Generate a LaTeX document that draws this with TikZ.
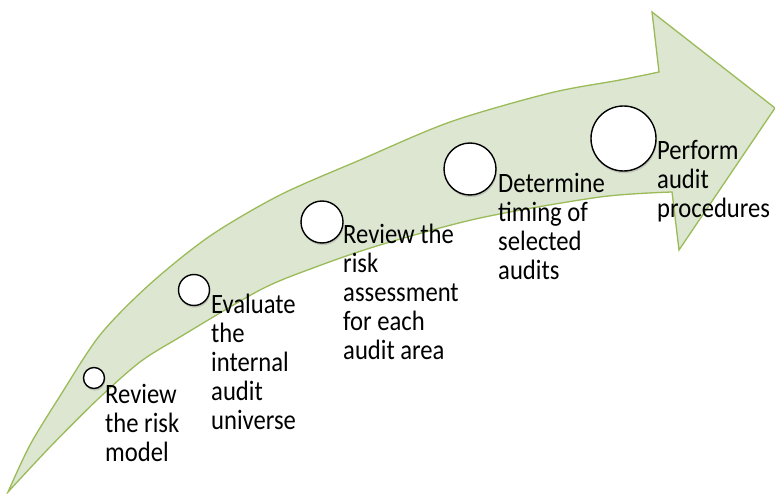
\documentclass[tikz,border=0pt]{standalone}
\usepackage{fontspec}
\setmainfont[FakeStretch=0.88]{Carlito}
\usetikzlibrary{shadows}
\definecolor{arrowfillc}{RGB}{220,230,209}
\definecolor{arrowline}{RGB}{155,187,89}
\tikzset{
  arrowshape/.style={fill=arrowfillc, draw=arrowline, line width=1.3pt, line join=miter},
  stepdot/.style={circle, draw=black, fill=white, line width=1.4pt, inner sep=0pt,
    drop shadow={opacity=0.3, shadow xshift=0.8pt, shadow yshift=-2.2pt}},
  steplabel/.style={anchor=base west, inner sep=0pt, font=\fontsize{28}{29}\selectfont, text=black}
}
\begin{document}
\begin{tikzpicture}[x=1pt, y=-1pt]
\useasboundingbox (0,0) rectangle (775,494);
\fill[white] (0,0) rectangle (775,494);
\filldraw[arrowshape]
  plot[smooth, tension=0.5] coordinates {(8,492) (30,445) (60,396) (100,335) (150,284) (210,236) (280,195) (360,160) (450,122) (550,93) (620,80) (659,72)}
  -- (652,12) -- (775,108) -- (679,250) --
  plot[smooth, tension=0.5] coordinates {(672,192) (600,197) (480,218) (380,245) (313,268) (260,290) (180,337) (140,362) (97,400) (50,447) (8,492)}
  -- cycle;
\node[stepdot, minimum size=21pt] (c1) at (94,378) {};
\node[stepdot, minimum size=31pt] (c2) at (194,290) {};
\node[stepdot, minimum size=42pt] (c3) at (322,222) {};
\node[stepdot, minimum size=52pt] (c4) at (470,169) {};
\node[stepdot, minimum size=65pt] (c5) at (623.5,138.5) {};
\renewcommand\arraystretch{1}
\node[steplabel] (t1) at (105,403) {\begin{tabular}[t]{@{}l@{}}Review\\the risk\\model\end{tabular}};
\node[steplabel] (t2) at (211,313) {\begin{tabular}[t]{@{}l@{}}Evaluate\\the\\internal\\audit\\universe\end{tabular}};
\node[steplabel] (t3) at (343,243) {\begin{tabular}[t]{@{}l@{}}Review the\\risk\\assessment\\for each\\audit area\end{tabular}};
\node[steplabel] (t4) at (498,193) {\begin{tabular}[t]{@{}l@{}}Determine\\timing of\\selected\\audits\end{tabular}};
\node[steplabel] (t5) at (657,160) {\begin{tabular}[t]{@{}l@{}}Perform\\audit\\procedures\end{tabular}};
\end{tikzpicture}
\end{document}
